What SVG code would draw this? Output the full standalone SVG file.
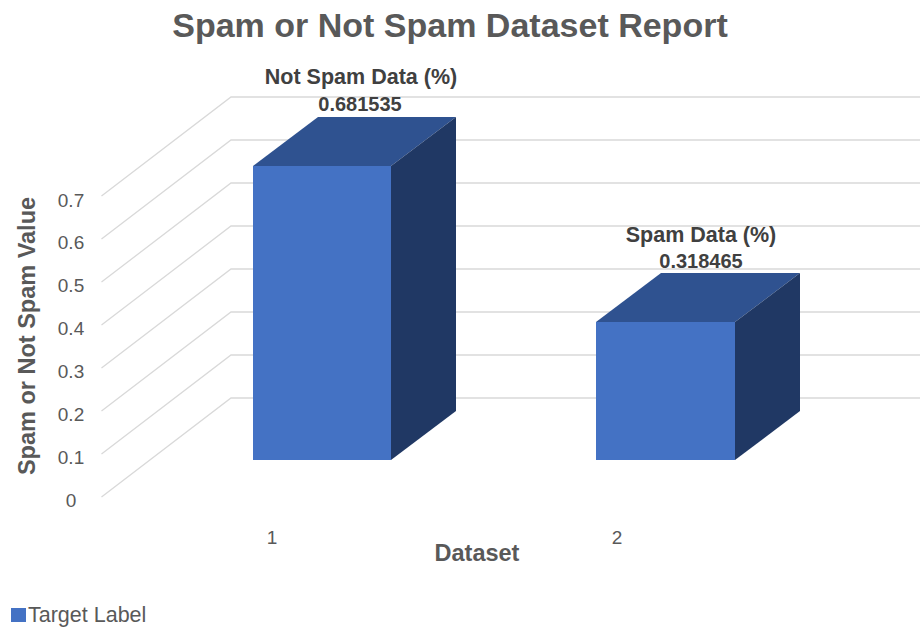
<svg xmlns="http://www.w3.org/2000/svg" width="922" height="630" viewBox="0 0 922 630">
  <style>
    .grid { fill: none; stroke: #D9D9D9; stroke-width: 1.3; }
    .front { fill: #4472C4; }
    .top { fill: #2F5290; }
    .side { fill: #203864; }
    text { font-family: "Liberation Sans", Arial, sans-serif; fill: #595959; }
    .title { font-size: 34px; font-weight: bold; text-anchor: middle; }
    .axtitle { font-size: 23.5px; font-weight: bold; text-anchor: middle; }
    .tick { font-size: 19px; text-anchor: middle; }
    .dlabel { font-size: 21.5px; font-weight: bold; text-anchor: middle; fill: #404040; }
    .dvalue { font-size: 20px; font-weight: bold; text-anchor: middle; fill: #404040; }
    .legend { font-size: 21.5px; }
  </style>
  <rect width="922" height="630" fill="#FFFFFF"/>

  <text class="title" x="450" y="37">Spam or Not Spam Dataset Report</text>

  <!-- floor and wall gridlines: diagonal side wall, then horizontal back wall -->
  <g id="gridlines">
    <polyline class="grid" points="101.5,497 231,398 920,398"/>
    <polyline class="grid" points="101.5,454 231,355 920,355"/>
    <polyline class="grid" points="101.5,411 231,312 920,312"/>
    <polyline class="grid" points="101.5,368 231,269 920,269"/>
    <polyline class="grid" points="101.5,325 231,226 920,226"/>
    <polyline class="grid" points="101.5,282 231,183 920,183"/>
    <polyline class="grid" points="101.5,239 231,140 920,140"/>
    <polyline class="grid" points="101.5,196 231,97 920,97"/>
  </g>

  <g id="axis-values">
    <text class="tick" x="71" y="507">0</text>
    <text class="tick" x="71" y="464">0.1</text>
    <text class="tick" x="71" y="421">0.2</text>
    <text class="tick" x="71" y="378">0.3</text>
    <text class="tick" x="71" y="335">0.4</text>
    <text class="tick" x="71" y="292">0.5</text>
    <text class="tick" x="71" y="249">0.6</text>
    <text class="tick" x="71" y="207">0.7</text>
  </g>
  <text class="axtitle" transform="translate(35,336) rotate(-90)">Spam or Not Spam Value</text>

  <g id="bar-1">
    <polygon class="front" points="253,166 391,166 391,460 253,460"/>
    <polygon class="top" points="253,166 318,117 456,117 391,166"/>
    <polygon class="side" points="391,166 456,117 456,411 391,460"/>
    <text class="dlabel" x="361" y="84">Not Spam Data (%)</text>
    <text class="dvalue" x="360" y="111">0.681535</text>
  </g>

  <g id="bar-2">
    <polygon class="front" points="596,322 735,322 735,460 596,460"/>
    <polygon class="top" points="596,322 661,273 800,273 735,322"/>
    <polygon class="side" points="735,322 800,273 800,411 735,460"/>
    <text class="dlabel" x="701" y="242">Spam Data (%)</text>
    <text class="dvalue" x="701" y="268">0.318465</text>
  </g>

  <g id="categories">
    <text class="tick" x="272" y="544">1</text>
    <text class="tick" x="617" y="544">2</text>
  </g>
  <text class="axtitle" x="477" y="561">Dataset</text>

  <g id="legend">
    <rect x="11" y="608" width="15" height="14" class="front"/>
    <text class="legend" x="28" y="622">Target Label</text>
  </g>
</svg>
